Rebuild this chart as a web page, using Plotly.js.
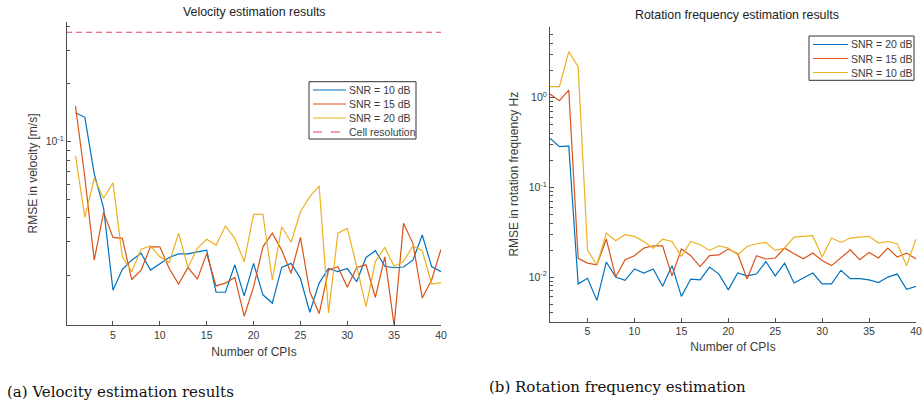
<!DOCTYPE html>
<html>
<head>
<meta charset="utf-8">
<script src="https://cdn.plot.ly/plotly-3.0.1.min.js"></script>
<style>
html,body{margin:0;padding:0;background:#fff;}
#chart{width:923px;height:404px;}
</style>
</head>
<body>
<div id="chart"></div>
<script>
// ---- data ----
const cpis = Array.from({length: 40}, (_, i) => i + 1);

// (a) velocity RMSE [m/s]
const velSnr10 = [0.1416,0.134,0.068,0.045,0.0168,0.0216,0.0241,0.0262,0.0214,0.023,
                  0.0249,0.026,0.026,0.0266,0.0272,0.0164,0.0164,0.0228,0.0157,0.0232,
                  0.0159,0.0144,0.0221,0.0232,0.0194,0.0129,0.0183,0.0218,0.021,0.0218,
                  0.0186,0.0249,0.027,0.0224,0.022,0.0222,0.0241,0.0326,0.0223,0.021];
const velSnr15 = [0.1535,0.065,0.0241,0.0428,0.0317,0.0313,0.0191,0.0214,0.0283,0.0283,
                  0.0218,0.0181,0.0221,0.0192,0.026,0.0177,0.0183,0.0196,0.0123,0.0175,
                  0.0283,0.0333,0.0272,0.0206,0.0317,0.0165,0.0127,0.0214,0.0223,0.0174,
                  0.0221,0.0228,0.0154,0.0251,0.0110,0.0375,0.0295,0.0153,0.019,0.0275];
const velSnr20 = [0.0845,0.0403,0.0644,0.0507,0.0611,0.0251,0.021,0.0275,0.0286,0.0251,
                  0.0234,0.0333,0.0221,0.0278,0.031,0.0289,0.0363,0.0313,0.0237,0.0418,
                  0.0418,0.019,0.036,0.0299,0.0431,0.0517,0.0587,0.0128,0.0333,0.0353,
                  0.0224,0.0138,0.0237,0.0281,0.0224,0.0237,0.0286,0.027,0.0181,0.0184];
const cellResolution = 0.372;
const cellX = [0, 40];

// (b) rotation frequency RMSE [Hz]
const rotSnr20 = [0.351,0.283,0.288,0.0084,0.0097,0.0055,0.0147,0.01,0.0092,0.0123,
                  0.0111,0.0123,0.0079,0.0134,0.0061,0.0095,0.0093,0.0129,0.0108,0.0072,
                  0.0111,0.0103,0.0108,0.0149,0.0103,0.0143,0.0086,0.0097,0.0111,0.0084,
                  0.0084,0.0119,0.0096,0.0096,0.0093,0.0087,0.01,0.0108,0.0073,0.0079];
const rotSnr15 = [1.09,0.92,1.21,0.0162,0.0143,0.0137,0.0265,0.01,0.0156,0.0173,
                  0.021,0.0223,0.0223,0.0103,0.0205,0.0173,0.0131,0.0173,0.0177,0.0205,
                  0.0182,0.0095,0.0173,0.0159,0.0163,0.021,0.0182,0.016,0.0185,0.0153,
                  0.0134,0.0163,0.0201,0.0156,0.0188,0.0163,0.021,0.0167,0.0185,0.0159];
const rotSnr10 = [1.32,1.32,3.24,2.2,0.0198,0.0137,0.0309,0.0254,0.0296,0.0284,
                  0.0249,0.021,0.0265,0.0249,0.017,0.0249,0.0229,0.0198,0.0223,0.021,
                  0.0177,0.0219,0.0235,0.0243,0.0198,0.021,0.0279,0.0284,0.0289,0.0167,
                  0.0272,0.0243,0.0272,0.0279,0.0284,0.0239,0.0249,0.0235,0.0134,0.0265];

const xTickVals = [5,10,15,20,25,30,35,40];
const velTickVals = [0.1];
const velTickText = ['10<sup>-1</sup>'];
const rotTickVals = [0.01, 0.1, 1];
const rotTickText = ['10<sup>-2</sup>','10<sup>-1</sup>','10<sup>0</sup>'];

// ---- styling ----
const BLUE = '#0072BD', ORANGE = '#D95319', YELLOW = '#EDB120', RED = '#E8425F';
const AX = '#4d4d4d', TXT = '#3a3a3a';
const FONT = 'Liberation Sans, Arial, Helvetica, sans-serif';
const SERIF = 'DejaVu Serif, Liberation Serif, serif';
const LW = 1.2;

function minorLog(lo, hi) {
  const v = [];
  for (let k = lo; k <= hi; k++) for (let d = 2; d <= 9; d++) v.push(d * Math.pow(10, k));
  return v;
}

const traces = [
  {x: cpis, y: velSnr10, name: 'SNR = 10 dB', mode: 'lines', line: {color: BLUE, width: LW}, xaxis: 'x', yaxis: 'y', meta: 'L'},
  {x: cpis, y: velSnr15, name: 'SNR = 15 dB', mode: 'lines', line: {color: ORANGE, width: LW}, xaxis: 'x', yaxis: 'y', meta: 'L'},
  {x: cpis, y: velSnr20, name: 'SNR = 20 dB', mode: 'lines', line: {color: YELLOW, width: LW}, xaxis: 'x', yaxis: 'y', meta: 'L'},
  {x: cellX, y: cellX.map(() => cellResolution), name: 'Cell resolution', mode: 'lines', line: {color: RED, width: LW, dash: '6px,4px'}, xaxis: 'x', yaxis: 'y', meta: 'L'},
  {x: cpis, y: rotSnr20, name: 'SNR = 20 dB', mode: 'lines', line: {color: BLUE, width: LW}, xaxis: 'x2', yaxis: 'y2', meta: 'R'},
  {x: cpis, y: rotSnr15, name: 'SNR = 15 dB', mode: 'lines', line: {color: ORANGE, width: LW}, xaxis: 'x2', yaxis: 'y2', meta: 'R'},
  {x: cpis, y: rotSnr10, name: 'SNR = 10 dB', mode: 'lines', line: {color: YELLOW, width: LW}, xaxis: 'x2', yaxis: 'y2', meta: 'R'}
];
traces.forEach(t => { t.showlegend = false; });

const W = 923, H = 404;
const px = v => v / W, py = v => 1 - v / H;

function xAxis(domain, range, anchor, standoff) {
  return {
    domain: domain, range: range, anchor: anchor,
    tickmode: 'array', tickvals: xTickVals,
    ticks: 'inside', ticklen: 4, tickcolor: AX, tickwidth: 1,
    showline: true, linecolor: AX, linewidth: 1, mirror: false,
    showgrid: false, zeroline: false,
    tickfont: {family: FONT, size: 10.5, color: TXT},
    title: {text: 'Number of CPIs', font: {family: FONT, size: 12, color: TXT}, standoff: standoff},
    automargin: false, fixedrange: true
  };
}
function yAxis(domain, range, anchor, tv, tt, title, standoff) {
  return {
    domain: domain, type: 'log', range: range, anchor: anchor,
    tickmode: 'array', tickvals: tv, ticktext: tt,
    ticks: 'inside', ticklen: 4, tickcolor: AX, tickwidth: 1,
    minor: {ticks: 'inside', ticklen: 2.5, tickcolor: AX, tickwidth: 1, tickmode: 'array', tickvals: minorLog(-3, 0), showgrid: false},
    showline: true, linecolor: AX, linewidth: 1, mirror: false,
    showgrid: false, zeroline: false,
    tickfont: {family: FONT, size: 10.5, color: TXT},
    title: {text: title, font: {family: FONT, size: 12, color: TXT}, standoff: standoff},
    automargin: false, fixedrange: true
  };
}

// ---- boxed legends (MATLAB-style compact spacing) ----
const shapes = [];
const annotations = [];
function buildLegend(group, box, firstY, step, sampleX0, sampleX1, textX) {
  shapes.push({type: 'rect', xref: 'paper', yref: 'paper',
    x0: px(box[0]), x1: px(box[1]), y0: py(box[3]), y1: py(box[2]),
    line: {color: '#333', width: 1}, fillcolor: '#fff', layer: 'above'});
  traces.filter(t => t.meta === group).forEach((t, i) => {
    const yy = py(firstY + i * step);
    shapes.push({type: 'line', xref: 'paper', yref: 'paper', x0: px(sampleX0), x1: px(sampleX1), y0: yy, y1: yy,
      line: {color: t.line.color, width: LW, dash: t.line.dash ? 'dash' : 'solid'}, layer: 'above'});
    annotations.push({text: t.name, xref: 'paper', yref: 'paper', x: px(textX), y: yy, xanchor: 'left', yanchor: 'middle',
      showarrow: false, font: {family: FONT, size: 10.5, color: TXT}});
  });
}
buildLegend('L', [309, 416, 81.7, 139], 90, 14, 313, 346, 347);
buildLegend('R', [809, 914, 36, 80.3], 44.5, 14, 813, 848, 849);

annotations.push(
  {text: 'Velocity estimation results', x: px(254), y: py(12), xref: 'paper', yref: 'paper', xanchor: 'center', yanchor: 'middle', showarrow: false, font: {family: FONT, size: 12.4, color: '#222'}},
  {text: 'Rotation frequency estimation results', x: px(737), y: py(15), xref: 'paper', yref: 'paper', xanchor: 'center', yanchor: 'middle', showarrow: false, font: {family: FONT, size: 12.4, color: '#222'}},
  {text: '(a) Velocity estimation results', x: px(5), y: py(392), xref: 'paper', yref: 'paper', xanchor: 'left', yanchor: 'middle', showarrow: false, font: {family: SERIF, size: 15, color: '#111'}},
  {text: '(b) Rotation frequency estimation', x: px(487), y: py(387), xref: 'paper', yref: 'paper', xanchor: 'left', yanchor: 'middle', showarrow: false, font: {family: SERIF, size: 15, color: '#111'}}
);

const layout = {
  width: W, height: H,
  margin: {l: 0, r: 0, t: 0, b: 0},
  paper_bgcolor: '#fff', plot_bgcolor: '#fff',
  font: {family: FONT, color: TXT},
  showlegend: false,
  xaxis: xAxis([px(67), px(441)], [0.094, 40], 'y', 8),
  yaxis: yAxis([py(325), py(22)], [-1.956, -0.376], 'x', velTickVals, velTickText, 'RMSE in velocity [m/s]', 5),
  xaxis2: xAxis([px(550), px(916)], [1, 40], 'y2', 6),
  yaxis2: yAxis([py(321.7), py(26.7)], [-2.497, 0.788], 'x2', rotTickVals, rotTickText, 'RMSE in rotation frequency Hz', 7),
  shapes: shapes,
  annotations: annotations
};

Plotly.newPlot('chart', traces, layout, {displayModeBar: false, staticPlot: true});
</script>
</body>
</html>
